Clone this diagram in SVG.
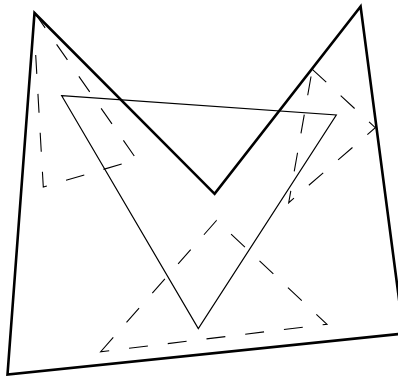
<svg xmlns="http://www.w3.org/2000/svg" width="398" height="376" viewBox="0 0 398 376">
<style>
.thick{fill:none;stroke:#000;stroke-width:2.6;stroke-linejoin:miter}
.thin{fill:none;stroke:#000;stroke-width:1.2;stroke-linejoin:miter}
.dash{fill:none;stroke:#000;stroke-width:1.1;stroke-dasharray:19 20}
</style>
<rect width="398" height="376" fill="#fff"/>
<g id="dashed">
<path class="dash" d="M121.7,164 L43.3,187 L35.7,55"/>
<path class="dash" d="M34.3,12.3 L134.3,156"/>
<path class="dash" style="stroke-dasharray:19 19.7" d="M312.3,69.3 L375.3,127.7 L288.7,202.7 Z"/>
<path class="dash" d="M100.7,351.7 L216.5,220.5 L327,324.3 Z"/>
</g>
<g id="triangle">
<path class="thin" d="M61.7,95.7 L336.3,115 L198.3,328.5 Z"/>
</g>
<g id="outline">
<path class="thick" d="M34.5,13 L214.6,193.8 L360.6,6.5 L403.5,333.5 L7.5,374.5 Z"/>
</g>
</svg>
